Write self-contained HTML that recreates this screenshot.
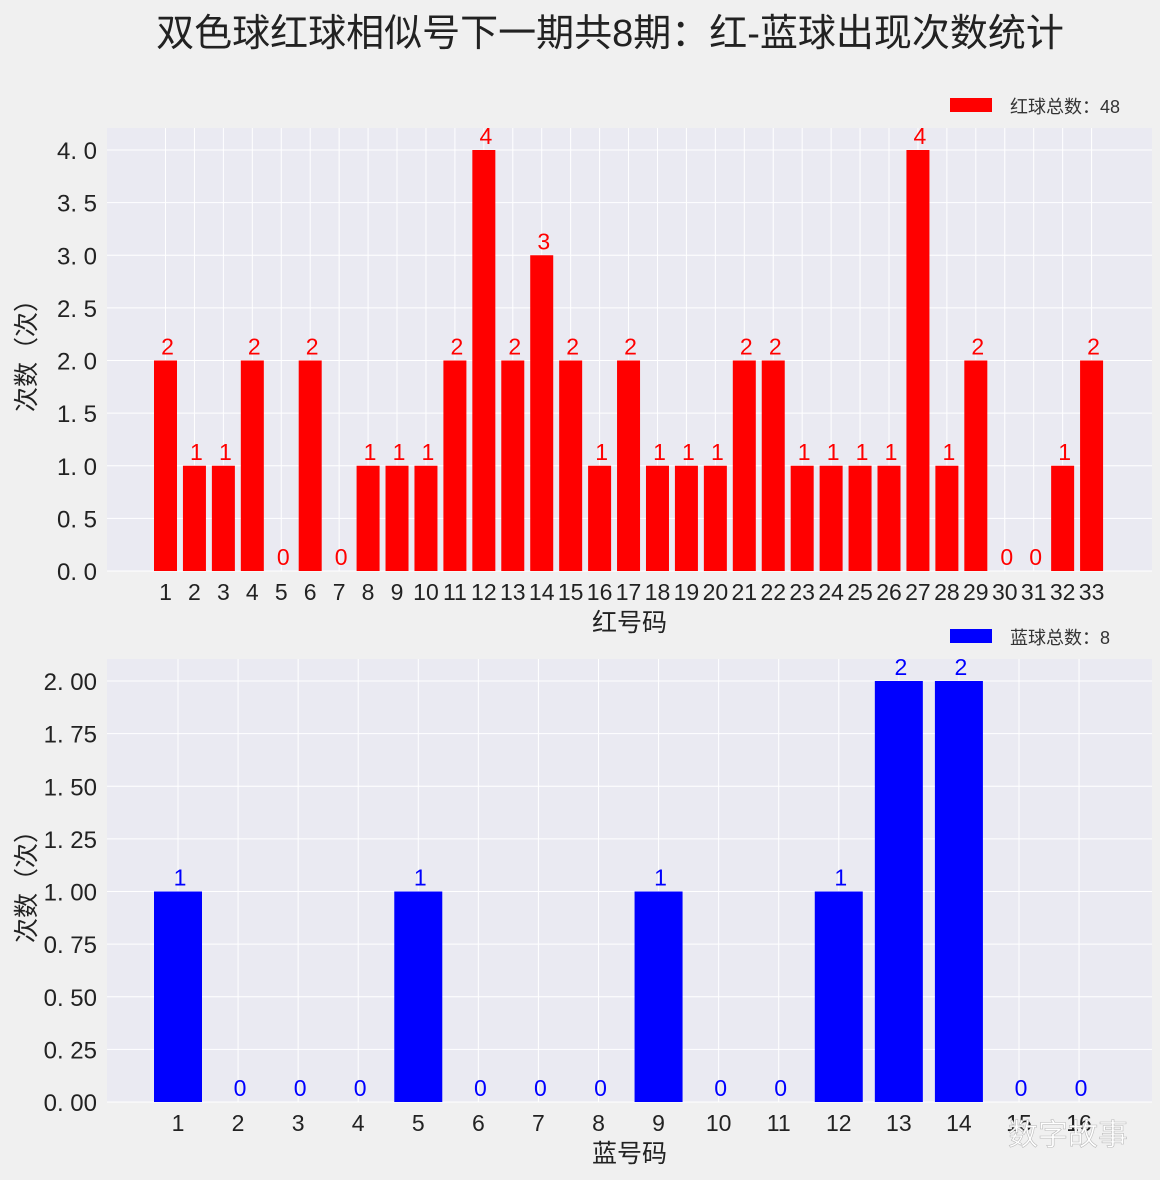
<!DOCTYPE html>
<html><head><meta charset="utf-8"><style>
body{margin:0;background:#f0f0f0;width:1160px;height:1175px;overflow:hidden}
svg text{font-family:"Liberation Sans","Noto Sans CJK SC",sans-serif}
</style></head><body>
<svg id="c" width="1160" height="1175" xmlns="http://www.w3.org/2000/svg">
<text x="610" y="46" text-anchor="middle" font-size="38" fill="#222">双色球红球相似号下一期共8期：红-蓝球出现次数统计</text>
</svg>
<script>
const redCats=[1,2,3,4,5,6,7,8,9,10,11,12,13,14,15,16,17,18,19,20,21,22,23,24,25,26,27,28,29,30,31,32,33];
const redVals=[2,1,1,2,0,2,0,1,1,1,2,4,2,3,2,1,2,1,1,1,2,2,1,1,1,1,4,1,2,0,0,1,2];
const redTicks=["0.0","0.5","1.0","1.5","2.0","2.5","3.0","3.5","4.0"];
const blueCats=[1,2,3,4,5,6,7,8,9,10,11,12,13,14,15,16];
const blueVals=[1,0,0,0,1,0,0,0,1,0,0,1,2,2,0,0];
const blueTicks=["0.00","0.25","0.50","0.75","1.00","1.25","1.50","1.75","2.00"];
const svg=document.getElementById('c');
const NS='http://www.w3.org/2000/svg';
function mk(tag,attrs,txt){const e=document.createElementNS(NS,tag);for(const k in attrs)e.setAttribute(k,attrs[k]);if(txt!==undefined)e.textContent=txt;svg.appendChild(e);return e;}
function panel(o){
  const {cats,vals,ticks,top,bottom,left,right,c1,step,bw,color,xlabel,legend,p}=o;
  const tmax=parseFloat(ticks[ticks.length-1]);
  const y0=bottom, yTop=top+22;
  const ys=v=>y0-(v/tmax)*(y0-yTop);
  const xs=i=>c1+i*step;
  const bg=mk('rect',{x:left,y:top,width:right-left,height:bottom-top,fill:'#eaeaf2'});
  
  
  ticks.forEach(t=>{const y=ys(parseFloat(t));
    const g=mk('line',{x1:left,x2:right,y1:y,y2:y,stroke:'#fff','stroke-width':1});
    
    
    const tl=mk('text',{x:left-10,y:y+9,'text-anchor':'end','font-size':24,fill:'#222'},t.replace('.','. '));
    
    
  });
  cats.forEach((c,i)=>{const x=xs(i);
    const g=mk('line',{x1:x,x2:x,y1:top,y2:bottom,stroke:'#fff','stroke-width':1});
    
    
    const tl=mk('text',{x:x,y:bottom+29,'text-anchor':'middle','font-size':23,fill:'#222'},String(c));
    
    
  });
  cats.forEach((c,i)=>{const v=vals[i];const x=xs(i);const y=ys(v);
    const b=mk('rect',{x:x-bw/2,y:y,width:bw,height:y0-y,fill:color});
    
    
    const l=mk('text',{x:x+2,y:y-6,'text-anchor':'middle','font-size':23,fill:color},String(v));
    
    
  });
  const xl=mk('text',{x:(left+right)/2,y:bottom+60,'text-anchor':'middle','font-size':25,fill:'#222'},xlabel);
  
  
  const cy=(top+bottom)/2;
  const yl=mk('text',{x:0,y:0,'text-anchor':'middle','font-size':25,fill:'#222',transform:`translate(${left-72},${cy}) rotate(-90)`},'次数（次）');
  
  
  const ls=mk('rect',{x:950,y:top-30,width:42,height:14,fill:color});
  
  
  const lt=mk('text',{x:1010,y:top-15,'font-size':18,fill:'#333'},legend);
  
  
}
panel({cats:redCats,vals:redVals,ticks:redTicks,top:128,bottom:571,left:107,right:1152,c1:165.5,step:28.94,bw:23,color:'#ff0000',xlabel:'红号码',legend:'红球总数：48',p:'red'});
panel({cats:blueCats,vals:blueVals,ticks:blueTicks,top:659,bottom:1102,left:107,right:1152,c1:178,step:60.07,bw:48,color:'#0000ff',xlabel:'蓝号码',legend:'蓝球总数：8',p:'blue'});
const w=mk('text',{x:1068,y:1145,'text-anchor':'middle','font-size':30,fill:'#fff',stroke:'#bbb','stroke-width':0.6},'数字故事');


</script>
</body></html>
